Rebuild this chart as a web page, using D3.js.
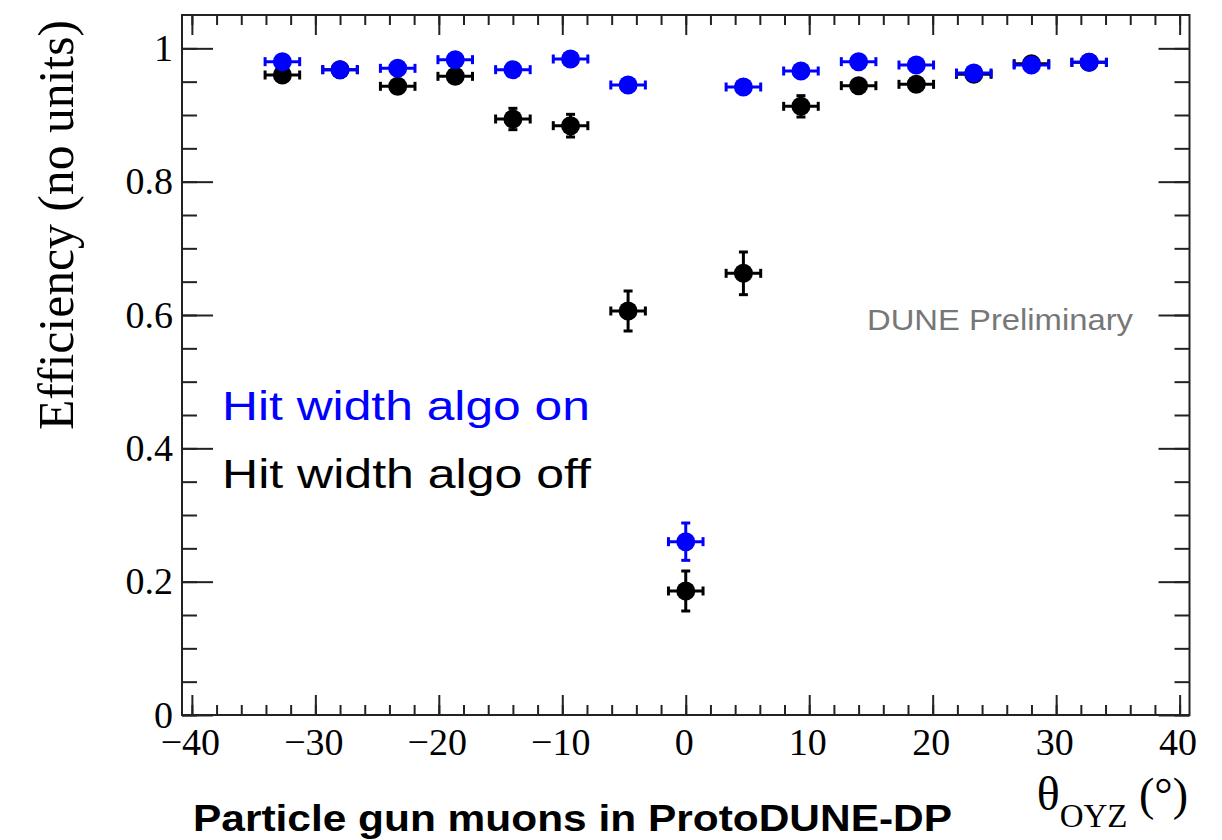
<!DOCTYPE html>
<html>
<head>
<meta charset="utf-8">
<script src="https://cdn.jsdelivr.net/npm/d3@7"></script>
<style>
  html, body { margin: 0; padding: 0; background: #fff; }
  svg { display: block; }
</style>
</head>
<body>
<svg id="chart" width="1222" height="840"></svg>
<script>
// Track angle bins (degrees) and reconstruction efficiency per bin
const angles = [-32.67, -28, -23.33, -18.67, -14, -9.33, -4.67, 0, 4.67, 9.33, 14, 18.67, 23.33, 28, 32.67];
const angleErr = [1.4, 1.4, 1.4, 1.4, 1.4, 1.4, 1.4, 1.4, 1.4, 1.4, 1.4, 1.4, 1.4, 1.4, 1.4];

// Hit width algorithm enabled
const effOn    = [0.980, 0.968, 0.970, 0.983, 0.968, 0.984, 0.945, 0.260, 0.942, 0.966, 0.980, 0.975, 0.963, 0.975, 0.979];
const effOnErr = [0.006, 0.006, 0.006, 0.006, 0.006, 0.006, 0.008, 0.028, 0.008, 0.006, 0.006, 0.006, 0.006, 0.006, 0.006];

// Hit width algorithm disabled
const effOff    = [0.960, 0.968, 0.943, 0.958, 0.894, 0.884, 0.606, 0.186, 0.6625, 0.913, 0.944, 0.946, 0.961, 0.977, 0.979];
const effOffErr = [0.008, 0.008, 0.008, 0.008, 0.016, 0.017, 0.030, 0.030, 0.032, 0.016, 0.008, 0.008, 0.008, 0.008, 0.008];

// Axis ticks
const xMajorTicks = [-40, -30, -20, -10, 0, 10, 20, 30, 40];
const xTickLabels = ["\u221240", "\u221230", "\u221220", "\u221210", "0", "10", "20", "30", "40"];
const xMinorTicks = d3.range(-40, 40.01, 2);
const yMajorTicks = [0, 0.2, 0.4, 0.6, 0.8, 1];
const yTickLabels = ["0", "0.2", "0.4", "0.6", "0.8", "1"];
const yMinorTicks = d3.range(0, 1.001, 0.05);

const seriesColors = { on: "#0000ff", off: "#000000" };

const svg = d3.select("#chart");
const frame = { left: 182, right: 1189.5, top: 15, bottom: 715 };

const x = d3.scaleLinear().domain([-40.8, 40.8]).range([frame.left, frame.right]);
const y = d3.scaleLinear().domain([0, 1.05]).range([frame.bottom, frame.top]);

const axisColor = "#222";
const serif = "'Liberation Serif', 'Times New Roman', Times, serif";
const sans = "'Liberation Sans', Arial, Helvetica, sans-serif";

function styleAxis(g) {
  g.select(".domain").remove();
  g.selectAll(".tick line").attr("stroke", axisColor).attr("stroke-width", 2);
  g.selectAll(".tick text").attr("fill", "#000").style("font-family", serif).style("font-size", "38px");
}

// Bottom axis: major ticks with labels, then minor ticks
svg.append("g")
  .attr("transform", `translate(0,${frame.bottom})`)
  .call(d3.axisBottom(x).tickValues(xMajorTicks)
    .tickFormat((d, i) => xTickLabels[i])
    .tickSizeInner(-20).tickSizeOuter(0).tickPadding(13))
  .call(styleAxis)
  .call(g => g.selectAll(".tick text").attr("dx", -2));
svg.append("g")
  .attr("transform", `translate(0,${frame.bottom})`)
  .call(d3.axisBottom(x).tickValues(xMinorTicks).tickFormat("").tickSizeInner(-10).tickSizeOuter(0))
  .call(styleAxis);

// Top axis (ticks only)
svg.append("g")
  .attr("transform", `translate(0,${frame.top})`)
  .call(d3.axisTop(x).tickValues(xMajorTicks).tickFormat("").tickSizeInner(-20).tickSizeOuter(0))
  .call(styleAxis);
svg.append("g")
  .attr("transform", `translate(0,${frame.top})`)
  .call(d3.axisTop(x).tickValues(xMinorTicks).tickFormat("").tickSizeInner(-10).tickSizeOuter(0))
  .call(styleAxis);

// Left axis
svg.append("g")
  .attr("transform", `translate(${frame.left},0)`)
  .call(d3.axisLeft(y).tickValues(yMajorTicks)
    .tickFormat((d, i) => yTickLabels[i])
    .tickSizeInner(-31).tickSizeOuter(0).tickPadding(9))
  .call(styleAxis);
svg.append("g")
  .attr("transform", `translate(${frame.left},0)`)
  .call(d3.axisLeft(y).tickValues(yMinorTicks).tickFormat("").tickSizeInner(-15).tickSizeOuter(0))
  .call(styleAxis);

// Right axis (ticks only)
svg.append("g")
  .attr("transform", `translate(${frame.right},0)`)
  .call(d3.axisRight(y).tickValues(yMajorTicks).tickFormat("").tickSizeInner(-31).tickSizeOuter(0))
  .call(styleAxis);
svg.append("g")
  .attr("transform", `translate(${frame.right},0)`)
  .call(d3.axisRight(y).tickValues(yMinorTicks).tickFormat("").tickSizeInner(-15).tickSizeOuter(0))
  .call(styleAxis);

// Frame
svg.append("rect")
  .attr("x", frame.left).attr("y", frame.top)
  .attr("width", frame.right - frame.left).attr("height", frame.bottom - frame.top)
  .attr("fill", "none").attr("stroke", axisColor).attr("stroke-width", 2);

// Data points with error bars and end caps
const capHalf = 4.5;
const markerR = 9.5;

function drawSeries(values, errors, color, cls) {
  const pts = angles.map((a, i) => ({ a, ea: angleErr[i], v: values[i], ev: errors[i] }));
  const g = svg.append("g").attr("class", cls)
    .attr("stroke", color).attr("stroke-width", 3).attr("fill", color);

  const bars = g.selectAll("g.pt").data(pts).join("g").attr("class", "pt");
  // horizontal error
  bars.append("line")
    .attr("x1", d => x(d.a - d.ea)).attr("x2", d => x(d.a + d.ea))
    .attr("y1", d => y(d.v)).attr("y2", d => y(d.v));
  bars.append("line")
    .attr("x1", d => x(d.a - d.ea)).attr("x2", d => x(d.a - d.ea))
    .attr("y1", d => y(d.v) - capHalf).attr("y2", d => y(d.v) + capHalf);
  bars.append("line")
    .attr("x1", d => x(d.a + d.ea)).attr("x2", d => x(d.a + d.ea))
    .attr("y1", d => y(d.v) - capHalf).attr("y2", d => y(d.v) + capHalf);
  // vertical error
  bars.append("line")
    .attr("x1", d => x(d.a)).attr("x2", d => x(d.a))
    .attr("y1", d => y(d.v - d.ev)).attr("y2", d => y(d.v + d.ev));
  bars.append("line")
    .attr("x1", d => x(d.a) - capHalf).attr("x2", d => x(d.a) + capHalf)
    .attr("y1", d => y(d.v + d.ev)).attr("y2", d => y(d.v + d.ev));
  bars.append("line")
    .attr("x1", d => x(d.a) - capHalf).attr("x2", d => x(d.a) + capHalf)
    .attr("y1", d => y(d.v - d.ev)).attr("y2", d => y(d.v - d.ev));
  // marker
  bars.append("circle")
    .attr("cx", d => x(d.a)).attr("cy", d => y(d.v))
    .attr("r", markerR).attr("stroke", "none");
}

drawSeries(effOff, effOffErr, seriesColors.off, "series-off");
drawSeries(effOn, effOnErr, seriesColors.on, "series-on");

// Axis titles
svg.append("text")
  .attr("transform", "translate(73,20) rotate(-90)")
  .attr("text-anchor", "end")
  .attr("textLength", 410).attr("lengthAdjust", "spacingAndGlyphs")
  .style("font-family", serif).style("font-size", "50px").attr("fill", "#000")
  .text("Efficiency (no units)");

const xTitle = svg.append("text")
  .attr("x", 1188).attr("y", 810)
  .attr("text-anchor", "end")
  .style("font-family", serif).attr("fill", "#000");
xTitle.append("tspan").style("font-size", "48px").text("\u03b8");
xTitle.append("tspan").style("font-size", "33px").attr("dy", 17).text("OYZ");
xTitle.append("tspan").style("font-size", "46px").attr("dy", -17).text(" (\u00b0)");

// Legend labels
svg.append("text")
  .attr("x", 222).attr("y", 420)
  .attr("textLength", 368).attr("lengthAdjust", "spacingAndGlyphs")
  .style("font-family", sans).style("font-size", "40px").attr("fill", seriesColors.on)
  .text("Hit width algo on");
svg.append("text")
  .attr("x", 222).attr("y", 488)
  .attr("textLength", 369).attr("lengthAdjust", "spacingAndGlyphs")
  .style("font-family", sans).style("font-size", "40px").attr("fill", seriesColors.off)
  .text("Hit width algo off");

// Preliminary tag
svg.append("text")
  .attr("x", 867).attr("y", 330)
  .attr("textLength", 266).attr("lengthAdjust", "spacingAndGlyphs")
  .style("font-family", sans).style("font-size", "30px").attr("fill", "#777")
  .text("DUNE Preliminary");

// Caption
svg.append("text")
  .attr("x", 193).attr("y", 831)
  .attr("textLength", 759).attr("lengthAdjust", "spacingAndGlyphs")
  .style("font-family", sans).style("font-size", "36px").style("font-weight", "bold").attr("fill", "#000")
  .text("Particle gun muons in ProtoDUNE-DP");
</script>
</body>
</html>
